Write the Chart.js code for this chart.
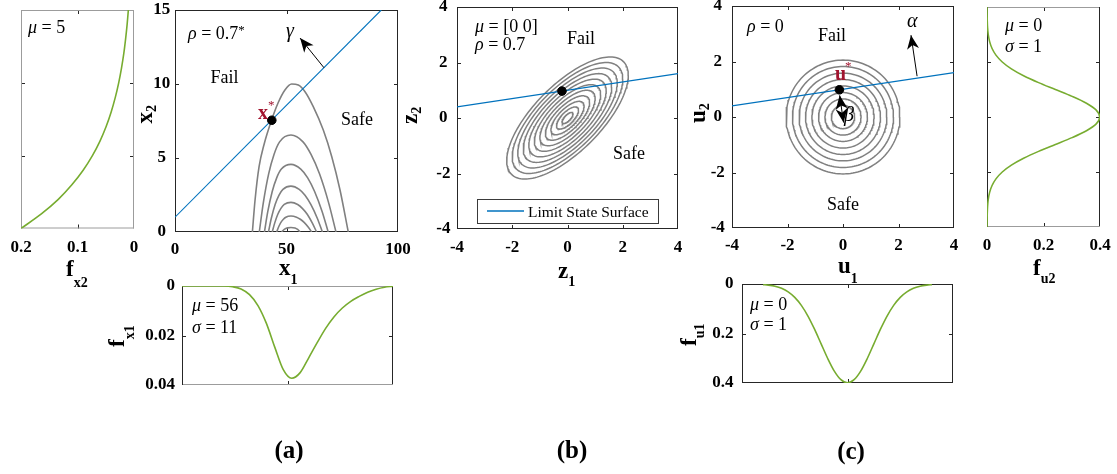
<!DOCTYPE html>
<html>
<head>
<meta charset="utf-8">
<script src="https://cdn.jsdelivr.net/npm/chart.js@4.4.1/dist/chart.umd.min.js"></script>
<style>
html,body{margin:0;padding:0;background:#fff;}
#wrap{position:relative;width:1117px;height:474px;overflow:hidden;background:#fff;}
#wrap canvas{position:absolute;left:0;top:0;}
</style>
</head>
<body>
<div id="wrap"></div>
<script>
// ===================== DATA =====================
// (a) marginal pdf of x2 (exponential, mu = 5), drawn sideways
const fx2X2  = [0,1,2,3,4,5,6,7,8,9,10,11,12,13,14,15];
const fx2Pdf = [0.200,0.164,0.134,0.110,0.090,0.0736,0.0602,0.0493,0.0404,0.0331,0.0271,0.0222,0.0181,0.0149,0.0122,0.0100];
// (a) marginal pdf of x1 (mu = 56, sigma = 11) as drawn under the contour plot
const fx1X1  = [0,20,24,28,32,36,40,44,48,52,56,60,64,68,72,76,80,84,88,92,96,100];
const fx1Pdf = [0,0,0.0003,0.0012,0.0035,0.0079,0.0151,0.0248,0.0338,0.0373,0.0350,0.0291,0.0230,0.0172,0.0125,0.0089,0.0062,0.0042,0.0025,0.0013,0.0005,0.0001];
// (a) joint density contours in x-space (x1, x2)
const contA_x1 = [
  [34.7,35.9,37.7,39.9,43.4,46.3,49.3,52.3,55.3,58.3,62.0,66.5,70.3,74.0,77.7],
  [37.8,39.6,42.0,44.4,46.9,52.0,57.4,61.0,64.8,68.9,72.2],
  [40.1,41.6,43.6,45.6,47.7,52.0,56.4,59.5,62.6,66.0,68.7],
  [41.9,43.2,44.9,46.6,48.4,52.0,55.7,58.3,60.9,63.8,66.1],
  [43.6,44.7,46.1,47.5,49.0,52.0,55.0,57.1,59.3,61.6,63.5],
  [45.6,46.4,47.5,48.6,49.7,52.0,54.5,56.2,57.9,59.8,61.3],
  [47.8,49.0,50.5,52.0,53.8,55.0,56.1]
];
const contA_x2 = [
  [0,2.16,4.41,5.9,7.6,8.75,9.6,10.0,9.93,9.48,8.47,6.89,5.09,2.84,0],
  [0,1.97,3.93,5.24,6.09,6.55,6.09,5.24,3.93,1.97,0],
  [0,1.37,2.74,3.66,4.25,4.57,4.25,3.66,2.74,1.37,0],
  [0,0.93,1.86,2.48,2.88,3.10,2.88,2.48,1.86,0.93,0],
  [0,0.60,1.20,1.60,1.86,2.00,1.86,1.60,1.20,0.60,0],
  [0,0.32,0.65,0.86,1.00,1.08,1.00,0.86,0.65,0.32,0],
  [0,0.18,0.28,0.30,0.27,0.17,0]
];
const lsfA_x1 = [0, 92.5];
const lsfA_x2 = [1.0, 15];
const xStar = [43.4, 7.55];
const gammaArrow = [66.8, 11.1, 56.1, 13.1];     // from (x1,x2) to (x1,x2)
// (b) correlated standard normal space
const rhoB = 0.7;
const contB_r = [0.2,0.4,0.6,0.8,1.0,1.2,1.4,1.6,1.8,2.0,2.2];
const lsfB_z1 = [-4, 4];
const lsfB_z2 = [0.4, 1.6];
const zStar = [-0.2, 0.97];
// (c) independent standard normal space
const rhoC = 0;
const contC_r = [0.42,0.65,0.88,1.12,1.35,1.58,1.82,2.05];
const lsfC_u1 = [-4, 4];
const lsfC_u2 = [0.4, 1.6];
const uStar = [-0.13, 0.98];
const alphaArrow = [2.67, 1.47, 2.45, 2.95];
const betaArrow = [-0.12, 0.78, 0.02, -0.2];
// standard normal marginals
const fu2U   = [-4,-3.75,-3.5,-3.25,-3,-2.75,-2.5,-2.25,-2,-1.75,-1.5,-1.25,-1,-0.75,-0.5,-0.25,0,0.25,0.5,0.75,1,1.25,1.5,1.75,2,2.25,2.5,2.75,3,3.25,3.5,3.75,4];
const fu2Pdf = [0.0001,0.0004,0.0009,0.0020,0.0044,0.0091,0.0175,0.0317,0.0540,0.0863,0.1295,0.1826,0.2420,0.3011,0.3521,0.3867,0.3989,0.3867,0.3521,0.3011,0.2420,0.1826,0.1295,0.0863,0.0540,0.0317,0.0175,0.0091,0.0044,0.0020,0.0009,0.0004,0.0001];
const fu1U   = [-3.2,-3,-2.75,-2.5,-2.25,-2,-1.75,-1.5,-1.25,-1,-0.75,-0.5,-0.25,0,0.25,0.5,0.75,1,1.25,1.5,1.75,2,2.25,2.5,2.75,3,3.2];
const fu1Pdf = [0.0024,0.0044,0.0091,0.0175,0.0317,0.0540,0.0863,0.1295,0.1826,0.2420,0.3011,0.3521,0.3867,0.3989,0.3867,0.3521,0.3011,0.2420,0.1826,0.1295,0.0863,0.0540,0.0317,0.0175,0.0091,0.0044,0.0024];
// tick values
const ticksX1   = [0,50,100];
const ticksX2   = [0,5,10,15];
const ticksFx2  = [0,0.1,0.2];
const ticksFx1  = [0,0.02,0.04];
const ticksStd  = [-4,-2,0,2,4];
const ticksU1b  = [-4,0,4];
const ticksFu   = [0,0.2,0.4];

// ===================== DRAWING =====================
const W = 1117, H = 474;
const SERIF = '"Liberation Serif","Times New Roman",serif';
const BLUE = '#0072BD', GREEN = '#77AC30', GRAY = '#808080', RED = '#A2142F', DARK = '#262626', LGRAY = '#9c9c9c';
Chart.defaults.font.family = SERIF;

const fmt = v => String(Math.round(v * 1000) / 1000);
const pts = (xs, ys) => xs.map((x, i) => ({x, y: ys[i]}));
const curve = (xs, ys, color, width, extra) => Object.assign({
  data: pts(xs, ys), showLine: true, borderColor: color, borderWidth: width,
  pointRadius: 0, fill: false, tension: 0
}, extra || {});
// order 0 = drawn last (on top)
const dot = p => ({data: [{x: p[0], y: p[1]}], showLine: false, pointRadius: 4.3, order: 0,
  backgroundColor: '#000', borderColor: '#000',
  pointBackgroundColor: '#000', pointBorderColor: '#000', pointBorderWidth: 1});
function ringData(r, rho) {
  const xs = [], ys = [], s = Math.sqrt(1 - rho * rho);
  for (let k = 0; k <= 144; k++) {
    const t = 2 * Math.PI * k / 144;
    xs.push(r * Math.cos(t));
    ys.push(r * (rho * Math.cos(t) + s * Math.sin(t)));
  }
  return [xs, ys];
}

function drawRuns(ctx, n) {
  ctx.save();
  ctx.translate(n.x, n.y);
  if (n.rot) ctx.rotate(-Math.PI / 2);
  const rs = n.runs.map(r => {
    const size = r.size || n.size || 18;
    const bold = (r.b !== undefined ? r.b : n.b);
    const f = (r.it ? 'italic ' : '') + (bold ? 'bold ' : '') + size + 'px ' + SERIF;
    ctx.font = f;
    return {r, f, w: ctx.measureText(r.t).width};
  });
  const total = rs.reduce((s, q) => s + q.w, 0);
  let x = n.align === 'center' ? -total / 2 : 0;
  ctx.textBaseline = 'alphabetic';
  ctx.textAlign = 'left';
  rs.forEach(q => {
    ctx.font = q.f;
    ctx.fillStyle = q.r.c || n.c || '#000';
    ctx.fillText(q.r.t, x, q.r.dy || 0);
    x += q.w;
  });
  ctx.restore();
}
function arrowHead(ctx, xs, ys, xt, yt) {
  const a = Math.atan2(yt - ys, xt - xs), L = 14, Wd = 6, N = 4;
  ctx.save();
  ctx.translate(xt, yt); ctx.rotate(a);
  ctx.beginPath();
  ctx.moveTo(0, 0); ctx.lineTo(-L, -Wd); ctx.lineTo(-L + N, 0); ctx.lineTo(-L, Wd);
  ctx.closePath(); ctx.fill();
  ctx.restore();
}

function deco(cfg) {
  return {
    id: 'deco',
    beforeDatasetsDraw(chart) {
      const {ctx, chartArea: a, scales} = chart;
      const c = cfg.frame || [DARK, DARK, DARK, DARK]; // top, right, bottom, left
      const L = 4;
      ctx.save();
      ctx.lineWidth = 1;
      ctx.strokeStyle = DARK;
      ctx.beginPath();
      scales.x.ticks.forEach(t => {
        if (t.value === scales.x.min || t.value === scales.x.max) return;
        const p = Math.round(scales.x.getPixelForValue(t.value)) + 0.5;
        ctx.moveTo(p, a.bottom); ctx.lineTo(p, a.bottom - L);
        ctx.moveTo(p, a.top); ctx.lineTo(p, a.top + L);
      });
      scales.y.ticks.forEach(t => {
        if (t.value === scales.y.min || t.value === scales.y.max) return;
        const p = Math.round(scales.y.getPixelForValue(t.value)) + 0.5;
        ctx.moveTo(a.left, p); ctx.lineTo(a.left + L, p);
        ctx.moveTo(a.right, p); ctx.lineTo(a.right - L, p);
      });
      ctx.stroke();
      const l = a.left + 0.5, r = a.right - 0.5, t = a.top + 0.5, b = a.bottom - 0.5;
      const seg = (x0, y0, x1, y1, col) => { ctx.strokeStyle = col; ctx.beginPath(); ctx.moveTo(x0, y0); ctx.lineTo(x1, y1); ctx.stroke(); };
      seg(a.left, t, a.right, t, c[0]);
      seg(r, a.top, r, a.bottom, c[1]);
      seg(a.left, b, a.right, b, c[2]);
      seg(l, a.top, l, a.bottom, c[3]);
      ctx.restore();
    },
    afterDatasetsDraw(chart) {
      const {ctx, scales} = chart;
      const X = v => scales.x.getPixelForValue(v), Y = v => scales.y.getPixelForValue(v);
      ctx.save();
      ctx.strokeStyle = '#000'; ctx.fillStyle = '#000'; ctx.lineWidth = 1;
      (cfg.arrows || []).forEach(ar => {
        const [x0, y0, x1, y1] = ar.v;
        const p0 = [X(x0), Y(y0)], p1 = [X(x1), Y(y1)];
        ctx.beginPath(); ctx.moveTo(p0[0], p0[1]); ctx.lineTo(p1[0], p1[1]); ctx.stroke();
        arrowHead(ctx, p0[0], p0[1], p1[0], p1[1]);
        if (ar.both) arrowHead(ctx, p1[0], p1[1], p0[0], p0[1]);
      });
      if (cfg.legend) {
        const g = cfg.legend, ds = chart.data.datasets[g.ds];
        ctx.fillStyle = '#fff';
        ctx.fillRect(g.x0, g.y0, g.x1 - g.x0, g.y1 - g.y0);
        ctx.strokeStyle = '#3a3a3a'; ctx.lineWidth = 1;
        ctx.strokeRect(g.x0 + 0.5, g.y0 + 0.5, g.x1 - g.x0, g.y1 - g.y0);
        ctx.strokeStyle = g.color; ctx.lineWidth = 1.3;
        ctx.beginPath(); ctx.moveTo(g.lx0, g.ly); ctx.lineTo(g.lx1, g.ly); ctx.stroke();
        drawRuns(ctx, {x: g.tx, y: g.ty, size: 15.5, runs: [{t: ds.label}]});
      }
      ctx.restore();
    },
    afterDraw(chart) {
      (cfg.notes || []).forEach(n => drawRuns(chart.ctx, n));
    }
  };
}

function makePanel(cfg) {
  const cv = document.createElement('canvas');
  cv.width = W; cv.height = H;
  cv.style.width = W + 'px'; cv.style.height = H + 'px';
  document.getElementById('wrap').appendChild(cv);
  const A = cfg.area;
  const zeroPad = s => { s.paddingTop = 0; s.paddingBottom = 0; s.paddingLeft = 0; s.paddingRight = 0; };
  const axis = (ax, isX) => ({
    type: 'linear', position: isX ? 'bottom' : 'left',
    min: ax.min, max: ax.max, reverse: !!ax.reverse,
    grid: {display: false, drawTicks: false}, border: {display: false},
    afterBuildTicks: s => { s.ticks = ax.ticks.map(v => ({value: v})); },
    afterFit: s => { if (isX) s.height = cfg.xh; else s.width = cfg.yw; zeroPad(s); },
    ticks: {
      display: !!ax.labels, font: {family: SERIF, size: 17, weight: 'bold'}, color: '#000',
      padding: ax.pad || 0, maxRotation: 0, minRotation: 0, autoSkip: false,
      crossAlign: ax.cross || 'near', callback: v => fmt(v)
    }
  });
  return new Chart(cv, {
    type: 'scatter',
    data: {datasets: cfg.datasets},
    options: {
      responsive: false, maintainAspectRatio: false, animation: false, events: [], devicePixelRatio: 1,
      layout: {autoPadding: false, padding: {left: A.l - cfg.yw, right: W - A.r, top: A.t, bottom: H - A.b - cfg.xh}},
      plugins: {legend: {display: false}, tooltip: {enabled: false}},
      scales: {x: axis(cfg.x, true), y: axis(cfg.y, false)}
    },
    plugins: [deco(cfg)]
  });
}

const mu = (rest) => [{t: 'μ', it: true}, {t: rest}];
const sg = (rest) => [{t: 'σ', it: true}, {t: rest}];

// ---------- (a) left: f_x2 ----------
makePanel({
  area: {l: 21, t: 10, r: 134, b: 228.5}, yw: 10, xh: 40,
  x: {min: 0, max: 0.2, reverse: true, ticks: ticksFx2, labels: true, pad: 8.8},
  y: {min: 0, max: 15, ticks: ticksX2},
  frame: [LGRAY, LGRAY, LGRAY, LGRAY],
  datasets: [curve(fx2Pdf, fx2X2, GREEN, 1.6, {tension: 0.3})],
  notes: [
    {x: 28, y: 33, runs: mu(' = 5')},
    {x: 66, y: 276, b: true, runs: [{t: 'f', size: 23}, {t: 'x2', size: 14, dy: 10.7}]}
  ]
});

// ---------- (a) main: x-space ----------
const dsA = contA_x1.map((xs, i) => curve(xs, contA_x2[i], GRAY, 1.6, {cubicInterpolationMode: 'monotone', order: 2}));
dsA.push(curve(lsfA_x1, lsfA_x2, BLUE, 1.1, {order: 1}));
dsA.push(dot(xStar));
makePanel({
  area: {l: 175, t: 10, r: 398, b: 232}, yw: 40, xh: 40,
  x: {min: 0, max: 100, ticks: ticksX1, labels: true, pad: 7.8},
  y: {min: 0, max: 15, ticks: ticksX2, labels: true, pad: 4.8, cross: 'center'},
  datasets: dsA,
  arrows: [{v: gammaArrow}],
  notes: [
    {x: 188, y: 39, runs: [{t: 'ρ', it: true}, {t: ' = 0.7'}, {t: '*', size: 13, dy: -5}]},
    {x: 286, y: 37, runs: [{t: 'γ', it: true, size: 20}]},
    {x: 210.5, y: 83, runs: [{t: 'Fail'}]},
    {x: 341, y: 124.5, runs: [{t: 'Safe'}]},
    {x: 258, y: 119, c: RED, runs: [{t: 'x', b: true, size: 20}, {t: '*', size: 13, dy: -10}]},
    {x: 279, y: 275, b: true, runs: [{t: 'x', size: 23}, {t: '1', size: 14, dy: 9}]},
    {x: 152, y: 123.5, rot: true, b: true, runs: [{t: 'x', size: 23}, {t: '2', size: 14, dy: 4}]}
  ]
});

// ---------- (a) bottom: f_x1 ----------
makePanel({
  area: {l: 182, t: 286, r: 393, b: 385}, yw: 50, xh: 30,
  x: {min: 0, max: 100, ticks: ticksX1},
  y: {min: 0, max: 0.04, reverse: true, ticks: ticksFx1, labels: true, pad: 7},
  frame: [LGRAY, DARK, LGRAY, DARK],
  datasets: [curve(fx1X1, fx1Pdf, GREEN, 1.6, {cubicInterpolationMode: 'monotone'})],
  notes: [
    {x: 192, y: 311, runs: mu(' = 56')},
    {x: 192, y: 333, runs: sg(' = 11')},
    {x: 124, y: 347, rot: true, b: true, runs: [{t: 'f', size: 23}, {t: 'x1', size: 14, dy: 10}]},
    {x: 289, y: 458, align: 'center', b: true, size: 25, runs: [{t: '(a)'}]}
  ]
});

// ---------- (b) z-space ----------
const dsB = contB_r.map(r => { const [xs, ys] = ringData(r, rhoB); return curve(xs, ys, GRAY, 1.5, {order: 2}); });
dsB.push(Object.assign(curve(lsfB_z1, lsfB_z2, BLUE, 1.1, {order: 1}), {label: 'Limit State Surface'}));
dsB.push(dot(zStar));
makePanel({
  area: {l: 457, t: 7, r: 678, b: 229}, yw: 40, xh: 40,
  x: {min: -4, max: 4, ticks: ticksStd, labels: true, pad: 8.8},
  y: {min: -4, max: 4, ticks: ticksStd, labels: true, pad: 6.6, cross: 'center'},
  datasets: dsB,
  legend: {ds: contB_r.length, color: BLUE, x0: 477, y0: 199, x1: 658, y1: 223, lx0: 487, lx1: 524, ly: 211, tx: 528, ty: 216.5},
  notes: [
    {x: 475, y: 32, runs: mu(' = [0 0]')},
    {x: 475, y: 50, runs: [{t: 'ρ', it: true}, {t: ' = 0.7'}]},
    {x: 567, y: 44, runs: [{t: 'Fail'}]},
    {x: 613, y: 159, runs: [{t: 'Safe'}]},
    {x: 558, y: 278, b: true, runs: [{t: 'z', size: 23}, {t: '1', size: 14, dy: 8.4}]},
    {x: 417, y: 124, rot: true, b: true, runs: [{t: 'z', size: 23}, {t: '2', size: 14, dy: 4}]},
    {x: 572, y: 458, align: 'center', b: true, size: 25, runs: [{t: '(b)'}]}
  ]
});

// ---------- (c) u-space ----------
const dsC = contC_r.map(r => { const [xs, ys] = ringData(r, rhoC); return curve(xs, ys, GRAY, 1.5, {order: 2}); });
dsC.push(curve(lsfC_u1, lsfC_u2, BLUE, 1.1, {order: 1}));
dsC.push(dot(uStar));
makePanel({
  area: {l: 732, t: 6, r: 954, b: 228}, yw: 40, xh: 40,
  x: {min: -4, max: 4, ticks: ticksStd, labels: true, pad: 7.9},
  y: {min: -4, max: 4, ticks: ticksStd, labels: true, pad: 7.2, cross: 'center'},
  datasets: dsC,
  arrows: [{v: alphaArrow}, {v: betaArrow, both: true}],
  notes: [
    {x: 747, y: 32, runs: [{t: 'ρ', it: true}, {t: ' = 0'}]},
    {x: 818, y: 40.7, runs: [{t: 'Fail'}]},
    {x: 827, y: 210, runs: [{t: 'Safe'}]},
    {x: 835, y: 80, c: RED, runs: [{t: 'u', b: true, size: 20}]},
    {x: 845, y: 70, c: RED, runs: [{t: '*', size: 13}]},
    {x: 907, y: 27, runs: [{t: 'α', it: true, size: 20}]},
    {x: 844, y: 121, runs: [{t: 'β', it: true, size: 20}]},
    {x: 838, y: 273.3, b: true, runs: [{t: 'u', size: 23}, {t: '1', size: 14, dy: 9.4}]},
    {x: 705, y: 123, rot: true, b: true, runs: [{t: 'u', size: 23}, {t: '2', size: 14, dy: 4}]}
  ]
});

// ---------- (c) right: f_u2 ----------
makePanel({
  area: {l: 987, t: 7, r: 1100, b: 227}, yw: 20, xh: 40,
  x: {min: 0, max: 0.4, ticks: ticksFu, labels: true, pad: 8.6},
  y: {min: -4, max: 4, ticks: ticksStd},
  frame: [LGRAY, DARK, LGRAY, DARK],
  datasets: [curve(fu2Pdf, fu2U, GREEN, 1.6, {tension: 0.3})],
  notes: [
    {x: 1005, y: 30.7, runs: mu(' = 0')},
    {x: 1005, y: 51.7, runs: sg(' = 1')},
    {x: 1033, y: 275, b: true, runs: [{t: 'f', size: 23}, {t: 'u2', size: 14, dy: 8.3}]}
  ]
});

// ---------- (c) bottom: f_u1 ----------
makePanel({
  area: {l: 742, t: 284, r: 953, b: 383}, yw: 50, xh: 30,
  x: {min: -4, max: 4, ticks: ticksU1b},
  y: {min: 0, max: 0.4, reverse: true, ticks: ticksFu, labels: true, pad: 8.4},
  datasets: [curve(fu1U, fu1Pdf, GREEN, 1.6, {tension: 0.3})],
  notes: [
    {x: 750, y: 310, runs: mu(' = 0')},
    {x: 750, y: 330, runs: sg(' = 1')},
    {x: 696, y: 346, rot: true, b: true, runs: [{t: 'f', size: 23}, {t: 'u1', size: 14, dy: 8}]},
    {x: 851, y: 459, align: 'center', b: true, size: 25, runs: [{t: '(c)'}]}
  ]
});
</script>
</body>
</html>
